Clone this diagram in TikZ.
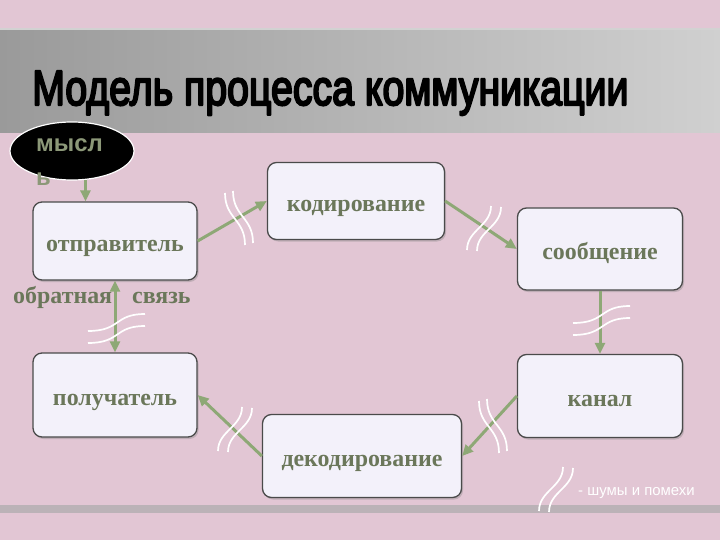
\documentclass[tikz,border=0pt]{standalone}
\usepackage{fontspec}
\usepackage{graphicx}
\setmainfont{Liberation Serif}
\setsansfont{Liberation Sans}
\newfontfamily\titlefont[FakeBold=4.5]{Liberation Sans}
\usetikzlibrary{arrows.meta,shapes.geometric,shadows}

\definecolor{bgpink}{HTML}{E2C6D4}
\definecolor{arrowgreen}{HTML}{8EA876}
\definecolor{labelgreen}{HTML}{6B775A}
\definecolor{thoughtgreen}{HTML}{8C9878}
\definecolor{boxfill}{HTML}{F3F1FA}
\definecolor{boxedge}{HTML}{4A4A4A}
\definecolor{bandleft}{HTML}{9A9A9A}
\definecolor{bandright}{HTML}{D0D0D0}
\definecolor{footband}{HTML}{BBB2B7}

\tikzset{
  stage/.style={rectangle, rounded corners=9bp, draw=boxedge, line width=1.3bp,
    fill=boxfill, text=labelgreen, font=\fontsize{24}{28}\selectfont\bfseries,
    text height=21bp, text depth=0bp,
    drop shadow={shadow xshift=1.5bp, shadow yshift=-2bp, opacity=0.35}},
  flow/.style={draw=arrowgreen, line width=3bp, -{Triangle[length=11bp,width=10bp]}},
  sidetext/.style={text=labelgreen, inner sep=0, font=\fontsize{24}{28}\selectfont\bfseries},
  noiseline/.style={draw=white, line width=1.7bp},
  noiseA/.pic={
    \draw[noiseline] (-12,-26) .. controls (-12,0) and (8,0) .. (8,26);
    \draw[noiseline] (-4,-28) .. controls (-4,-2) and (16,-2) .. (16,24);
  },
  noiseB/.pic={
    \draw[noiseline] (-17,22) .. controls (-17,2) and (7,-2) .. (7,-22);
    \draw[noiseline] (-7,23) .. controls (-7,3) and (17,-1) .. (17,-21);
  },
  noiseC/.pic={
    \draw[noiseline] (-28,3) .. controls (5,3) and (-2,-14) .. (29,-14);
    \draw[noiseline] (-28,15) .. controls (5,15) and (-2,-2) .. (29,-2);
  }
}

\begin{document}
\begin{tikzpicture}[x=1bp, y=-1bp]
  % background and bands
  \fill[bgpink] (0,0) rectangle (720,540);
  \useasboundingbox (0,0) rectangle (720,540);
  \fill[gray!35] (0,28) rectangle (720,31);
  \shade[left color=bandleft, right color=bandright] (0,31) rectangle (720,133);
  \fill[footband] (0,505) rectangle (720,513);

  \node[anchor=base west, inner sep=0] (title) at (32,105)
    {\special{pdf:literal direct 1 j}\resizebox{596bp}{34bp}{\titlefont Модель процесса коммуникации}};

  % thought
  \node[ellipse, fill=black, draw=white, line width=1.2bp, minimum width=124bp,
    minimum height=58bp, inner sep=0] (thought) at (72,151) {};
  \node[anchor=north west, align=left, inner sep=0, text=thoughtgreen,
    font=\sffamily\bfseries\fontsize{24}{30}\selectfont] (thoughtlabel) at (36,138) {мысл\\[5bp]ь};

  % stages
  \node[stage, minimum width=164bp, minimum height=78bp] (send) at (115,241) {отправитель};
  \node[stage, minimum width=177bp, minimum height=77bp] (code) at (356,201) {кодирование};
  \node[stage, minimum width=165bp, minimum height=82bp] (msg)  at (600,249) {сообщение};
  \node[stage, minimum width=165bp, minimum height=83bp] (chan) at (600,396) {канал};
  \node[stage, minimum width=199bp, minimum height=83bp] (dec)  at (362,456) {декодирование};
  \node[stage, minimum width=164bp, minimum height=84bp] (recv) at (115,395) {получатель};

  \node[sidetext, anchor=base west] (back1) at (13,303) {обратная};
  \node[sidetext, anchor=base west] (back2) at (132,303) {связь};

  % arrows
  \draw[flow] (thought.-65) -- (thought.-65 |- send.north);
  \draw[flow] (send.east) -- (code.west);
  \draw[flow] (code.east) -- (msg.west);
  \draw[flow] (msg.south) -- (chan.north);
  \draw[flow] (chan.west) -- (dec.east);
  \draw[flow] (dec.west) -- (recv.east);
  \draw[flow, {Triangle[length=11bp,width=10bp]}-{Triangle[length=11bp,width=10bp]}] (recv.north) -- (send.south);

  % noise
  \pic at (237,219) {noiseA};
  \pic at (484,228) {noiseB};
  \pic at (601,320) {noiseC};
  \pic at (491,427) {noiseA};
  \pic at (235,429) {noiseB};
  \pic at (116,328) {noiseC};

  % key
  \pic at (556,489) {noiseB};
  \node[anchor=base west, inner sep=0, text=white, font=\sffamily\fontsize{15}{18}\selectfont] (noisekey) at (578,495) {- шумы и помехи};
\end{tikzpicture}
\end{document}
